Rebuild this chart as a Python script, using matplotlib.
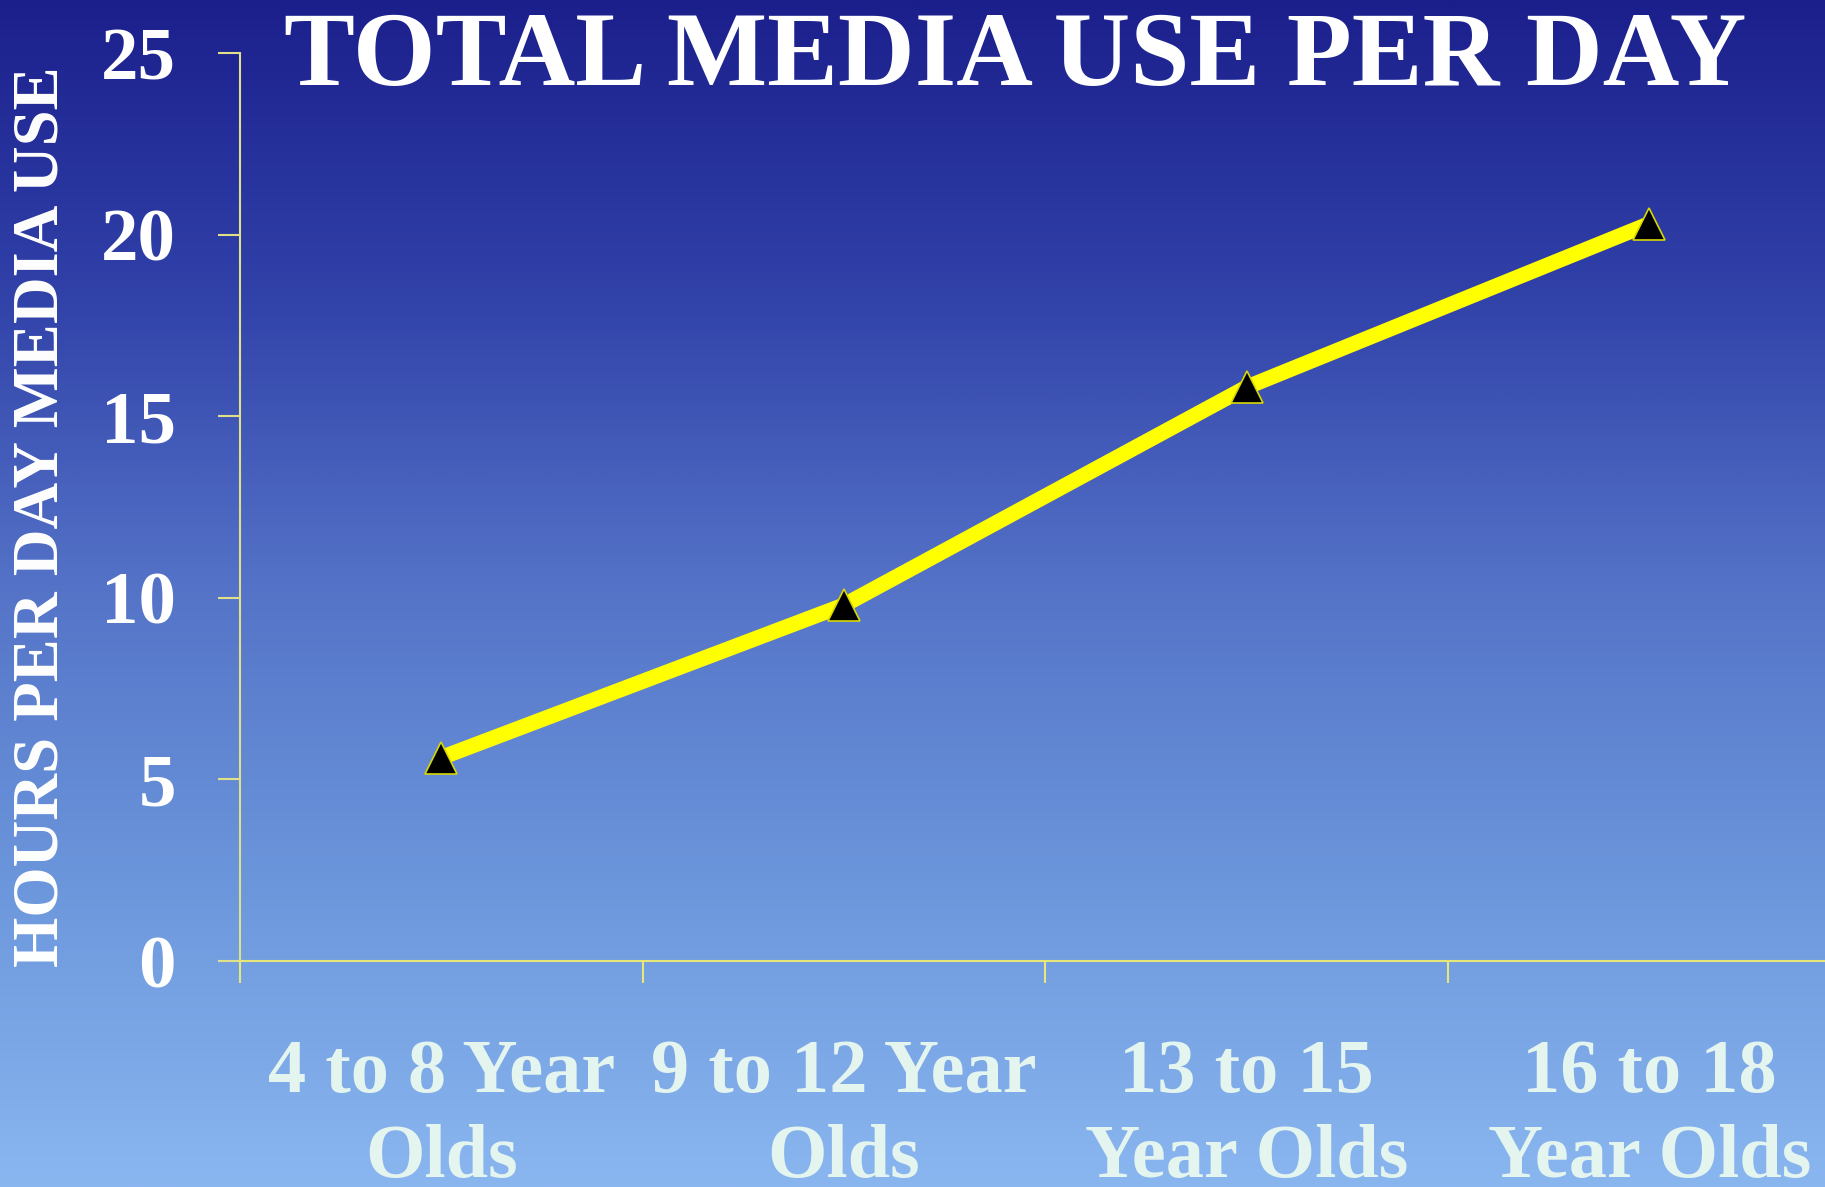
import numpy as np
import matplotlib
matplotlib.use("Agg")
import matplotlib.pyplot as plt
from matplotlib.colors import LinearSegmentedColormap

categories = ["4 to 8 Year\nOlds", "9 to 12 Year\nOlds", "13 to 15\nYear Olds", "16 to 18\nYear Olds"]
hours = [5.6, 9.8, 15.8, 20.3]
yticks = [0, 5, 10, 15, 20, 25]

W, H, DPI = 1825, 1187, 100
fig = plt.figure(figsize=(W / DPI, H / DPI), dpi=DPI)

# background gradient
bg = fig.add_axes([0, 0, 1, 1], zorder=-10)
cmap = LinearSegmentedColormap.from_list(
    "bg", [(0.0, "#1b1f8c"), (0.25, "#3142a9"), (0.5, "#5574c8"),
           (0.75, "#6c97dc"), (1.0, "#8ab6f0")])
grad = np.linspace(0, 1, 512).reshape(-1, 1)
bg.imshow(grad, aspect="auto", cmap=cmap, extent=[0, 1, 1, 0])
bg.set_axis_off()

serif = "Liberation Serif"
ax = fig.add_axes([240 / W, 1 - 961 / H, 4 * 402.7 / W, (961 - 53) / H])
ax.patch.set_alpha(0)
x = np.arange(len(categories))
ax.plot(x, hours, color="#ffff00", lw=11, solid_capstyle="butt", zorder=3,
        clip_on=False)
ax.plot(x, hours, linestyle="none", marker="^", markersize=23,
        markerfacecolor="black", markeredgecolor="#d8d800", markeredgewidth=1.2,
        zorder=4, clip_on=False)

ax.set_xlim(-0.5, 3.5)
ax.set_ylim(0, 25)
ax.set_yticks(yticks)
ax.set_yticklabels([str(v) for v in yticks])
ax.set_xticks(np.arange(len(categories) + 1) - 0.5, minor=False)
ax.set_xticklabels([""] * (len(categories) + 1))
ax.set_xticks(x, minor=True)
ax.set_xticklabels(categories, minor=True)
ax.tick_params(axis="x", which="minor", length=0, pad=56,
               labelsize=55, labelcolor="#e4f4ee")
ax.tick_params(axis="x", which="major", length=16, width=1.5, color="#e6e67a",
               direction="out")
ax.tick_params(axis="y", length=16, width=1.5, color="#e0e08a", direction="out",
               pad=30, labelsize=54, labelcolor="white")
for lab in ax.get_yticklabels():
    lab.set_fontfamily(serif)
    lab.set_fontweight("bold")
for lab in ax.get_xticklabels(minor=True):
    lab.set_fontfamily(serif)
    lab.set_fontweight("bold")
    lab.set_linespacing(1.3)

for s in ["top", "right"]:
    ax.spines[s].set_visible(False)
ax.spines["left"].set_color("#e0e08a")
ax.spines["bottom"].set_color("#e6e67a")
ax.spines["left"].set_linewidth(1.5)
ax.spines["bottom"].set_linewidth(1.5)

fig.text(0.556, 1 - 59 / H, "TOTAL MEDIA USE PER DAY", ha="center", va="center",
         fontsize=76.5, fontweight="bold", family=serif, color="white")
fig.text(42 / W, 1 - 517 / H, "HOURS PER DAY MEDIA USE", ha="center", va="center",
         rotation=90, fontsize=46.5, fontweight="bold", family=serif, color="white")

fig.savefig("out.png", dpi=DPI)
